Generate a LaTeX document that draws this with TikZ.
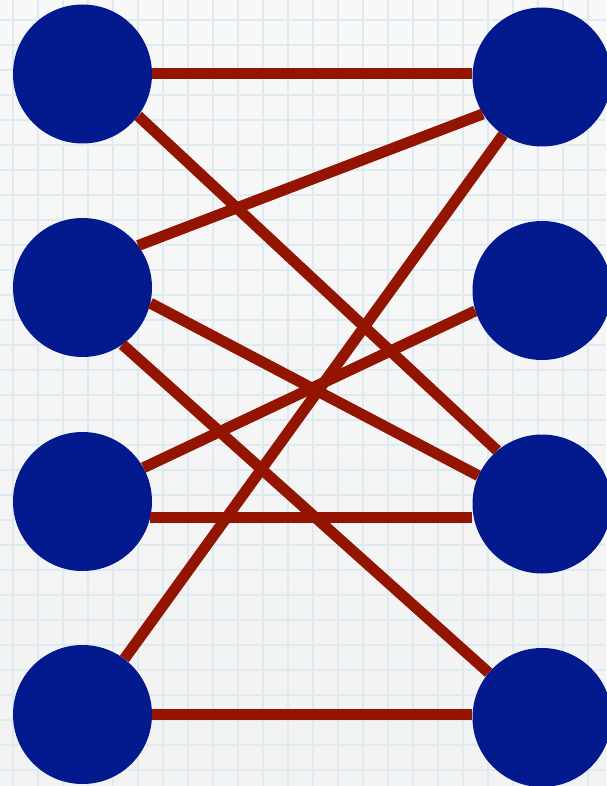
\documentclass[tikz,border=0pt]{standalone}
\begin{document}
\begin{tikzpicture}[x=1pt,y=-1pt,
  vertex/.style={circle,fill=nodeblue,draw=none,minimum size=139pt,inner sep=0pt},
  edge/.style={draw=edgered,line width=11pt,line cap=butt},
  gridline/.style={draw=gridblue,line width=1.3pt}]
\definecolor{nodeblue}{RGB}{3,26,143}
\definecolor{edgered}{RGB}{147,20,0}
\definecolor{gridblue}{RGB}{221,234,240}
\definecolor{bgtop}{RGB}{248,248,248}
\definecolor{bgbot}{RGB}{242,242,242}
\useasboundingbox (0,0) rectangle (606,786);
\shade[top color=bgtop,bottom color=bgbot] (0,0) rectangle (606,786);
\foreach \gx in {13,38,...,600} \draw[gridline] (\gx,0) -- (\gx,786);
\foreach \gy in {20,45,...,780} \draw[gridline] (0,\gy) -- (606,\gy);
% nodes
\node[vertex] (L1) at (82.5,74) {};
\node[vertex] (L2) at (82.5,287.5) {};
\node[vertex] (L3) at (82.5,501.5) {};
\node[vertex] (L4) at (82.5,714.5) {};
\node[vertex] (R1) at (542,77) {};
\node[vertex] (R2) at (542,290.5) {};
\node[vertex] (R3) at (542,504) {};
\node[vertex] (R4) at (542,717.5) {};
% edges
\draw[edge] (L1.east) -- (L1.east -| R1.west);
\draw[edge] (L1.-37) -- (R3.130);
\draw[edge] (L2.37) -- (R1.212);
\draw[edge] (L2.-13) -- (R3.156);
\draw[edge] (L2.-55) -- (R4.140);
\draw[edge] (L3.29) -- (R2.197);
\draw[edge] (L3.-13) -- (L3.-13 -| R3.west);
\draw[edge] (L4.53) -- (R1.236);
\draw[edge] (L4.east) -- (L4.east -| R4.west);
\end{tikzpicture}
\end{document}
